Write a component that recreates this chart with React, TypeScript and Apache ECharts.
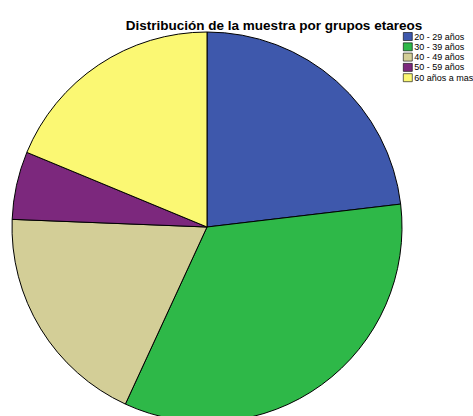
import React, { useEffect, useRef } from "react";
import * as echarts from "echarts";

const categories = ["20 - 29 años", "30 - 39 años", "40 - 49 años", "50 - 59 años", "60 años a mas"];
const values = [37, 54, 30, 9, 30];
const colors = ["#3e58ac", "#2eb848", "#d3ce97", "#7c287d", "#fbf873"];
const titleText = "Distribución de la muestra por grupos etareos";

export default function App() {
  const ref = useRef<HTMLDivElement>(null);
  useEffect(() => {
    if (!ref.current) return;
    const chart = echarts.init(ref.current, null, { renderer: "svg" });
    chart.setOption({
      animation: false,
      backgroundColor: "#ffffff",
      title: {
        text: titleText,
        left: 269,
        textAlign: "center",
        top: 13,
        textStyle: {
          fontFamily: "Liberation Sans, Arial, sans-serif",
          fontSize: 13.5,
          fontWeight: "bold",
          color: "#000",
        },
      },
      legend: {
        orient: "vertical",
        left: 403,
        top: 32,
        itemWidth: 9,
        itemHeight: 8,
        itemGap: 1.3,
        icon: "rect",
        padding: 0,
        selectedMode: false,
        itemStyle: { borderColor: "#000", borderWidth: 0.6 },
        textStyle: {
          fontFamily: "Liberation Sans, Arial, sans-serif",
          fontSize: 9,
          color: "#000",
          padding: [0, 0, 0, -3],
        },
        data: categories,
      },
      series: [
        {
          type: "pie",
          center: [207, 227],
          radius: 195,
          startAngle: 90,
          clockwise: true,
          label: { show: false },
          labelLine: { show: false },
          emphasis: { disabled: true },
          itemStyle: { borderColor: "#000", borderWidth: 1 },
          data: categories.map((c, i) => ({
            name: c,
            value: values[i],
            itemStyle: { color: colors[i] },
          })),
        },
      ],
    });
    return () => chart.dispose();
  }, []);
  return (
    <div
      ref={ref}
      style={{ position: "fixed", left: 0, top: 0, width: 473, height: 416 }}
    />
  );
}
